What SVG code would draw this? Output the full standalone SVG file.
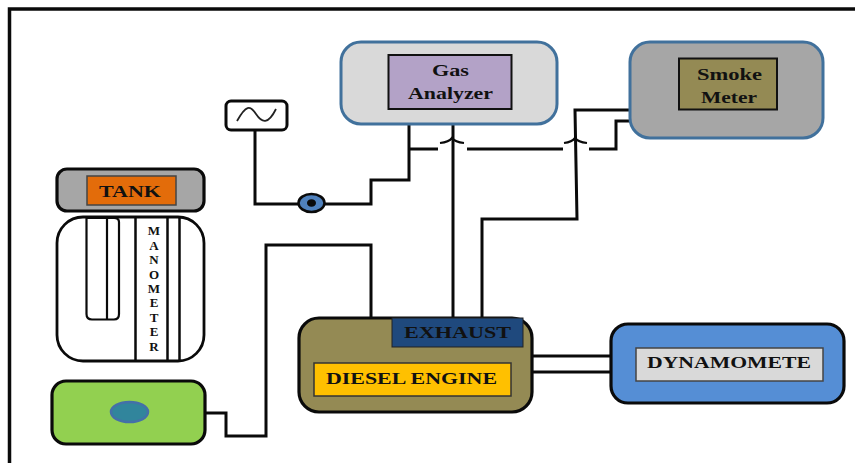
<svg xmlns="http://www.w3.org/2000/svg" width="855" height="463" viewBox="0 0 855 463">
<style>
text{font-family:"Liberation Serif","Times New Roman",serif;font-weight:bold;fill:#111;text-anchor:middle}
.lbl{font-size:17px}
.man{font-size:13px}
.k{fill:none;stroke:#0a0a0a;stroke-width:3}
.th{fill:none;stroke:#0a0a0a;stroke-width:2.2}
.b{stroke:#0a0a0a;stroke-width:3.2}
.s{stroke:#41719C;stroke-width:3}
</style>
<rect width="855" height="463" fill="#fff"/>
<path id="frame" d="M9.500 463V9H855" fill="none" stroke="#0a0a0a" stroke-width="3.500"/>
<g id="connectors">
<path class="k" d="M255 130V204H298M325 204H371V180H409V124"/>
<path class="k" d="M205 413H226V436H266V245H371V318"/>
<path class="k" d="M409 149H438M467 149H563M589 149H616V121H630"/>
<path class="k" d="M453 124V318"/>
<path class="k" d="M482 318V219H577L575 110H630"/>
<path class="th" d="M440 143Q449 142 452 138Q455 142 464 143M564 143Q572 142 575 138Q578 142 587 143"/>
<path class="k" d="M532 356H611M532 372H611"/>
</g>
<g id="gas-analyzer">
<rect class="s" x="341" y="42" width="216" height="82" rx="20" fill="#D9D9D9"/>
<rect x="388.500" y="55" width="123" height="54" fill="#B3A2C7" stroke="#111" stroke-width="2"/>
<text class="lbl" x="450.500" y="75.500" textLength="37" lengthAdjust="spacingAndGlyphs">Gas</text>
<text class="lbl" x="450.500" y="98.500" textLength="85" lengthAdjust="spacingAndGlyphs">Analyzer</text>
</g>
<g id="smoke-meter">
<rect class="s" x="630" y="42" width="193" height="96" rx="20" fill="#A6A6A6"/>
<rect x="679" y="58.500" width="98" height="51" fill="#948A54" stroke="#111" stroke-width="2"/>
<text class="lbl" x="729.500" y="79.500" textLength="65" lengthAdjust="spacingAndGlyphs">Smoke</text>
<text class="lbl" x="729" y="102.500" textLength="56" lengthAdjust="spacingAndGlyphs">Meter</text>
</g>
<g id="signal">
<rect x="226" y="101" width="61" height="29" rx="5" fill="#fff" stroke="#0a0a0a" stroke-width="3"/>
<path d="M237 121C246 105 250 105 256 114S268 125 276 109" fill="none" stroke="#222" stroke-width="1.800"/>
</g>
<g id="pump">
<ellipse cx="311.500" cy="203" rx="13" ry="9" fill="#4F81BD" stroke="#0a0a0a" stroke-width="2.500"/>
<ellipse cx="311.500" cy="203" rx="4.500" ry="3.800" fill="#0a0a0a"/>
</g>
<g id="tank">
<rect class="b" x="57" y="169" width="147" height="42" rx="10" fill="#A6A6A6"/>
<rect x="87" y="176" width="89" height="29" fill="#E36C0A" stroke="#444" stroke-width="1.500"/>
<text class="lbl" x="130" y="196.500" textLength="62" lengthAdjust="spacingAndGlyphs">TANK</text>
</g>
<g id="manometer">
<rect x="57" y="217" width="147" height="144" rx="26" fill="#fff" stroke="#0a0a0a" stroke-width="2.800"/>
<path class="th" d="M86.500 218V314Q86.500 319.500 92 319.500H114Q119 319.500 119 314V222Q119 218 114 218H86.500M107 218V319"/>
<path class="k" style="stroke-width:2.500" d="M135.500 218V360M167.500 218V360M179.500 218V360"/>
<g class="man">
<text x="154" y="235">M</text><text x="154" y="250">A</text><text x="154" y="264">N</text><text x="154" y="279">O</text><text x="154" y="293">M</text><text x="154" y="307">E</text><text x="154" y="322">T</text><text x="154" y="336">E</text><text x="154" y="350.500">R</text>
</g>
</g>
<g id="fuel-pump">
<rect class="b" x="52" y="381" width="153" height="63" rx="14" fill="#92D050"/>
<ellipse cx="129.500" cy="412" rx="18.500" ry="10" fill="#31859C" stroke="#4470A8" stroke-width="2.500"/>
</g>
<g id="engine">
<rect class="b" x="299" y="318" width="233" height="94" rx="20" fill="#948A54"/>
<rect x="392" y="318" width="131" height="29" fill="#1F497D" stroke="#222" stroke-width="1"/>
<text class="lbl" x="457.500" y="338" textLength="107" lengthAdjust="spacingAndGlyphs">EXHAUST</text>
<rect x="314" y="363" width="197" height="33" fill="#FFC000" stroke="#333" stroke-width="1.500"/>
<text class="lbl" x="411.500" y="384" textLength="171" lengthAdjust="spacingAndGlyphs">DIESEL ENGINE</text>
</g>
<g id="dynamometer">
<rect class="b" x="611" y="324" width="233" height="79" rx="17" fill="#558ED5"/>
<rect x="636" y="348" width="187" height="33" fill="#D9D9D9" stroke="#444" stroke-width="1.500"/>
<text class="lbl" x="729" y="368" textLength="164" lengthAdjust="spacingAndGlyphs">DYNAMOMETE</text>
</g>
</svg>
